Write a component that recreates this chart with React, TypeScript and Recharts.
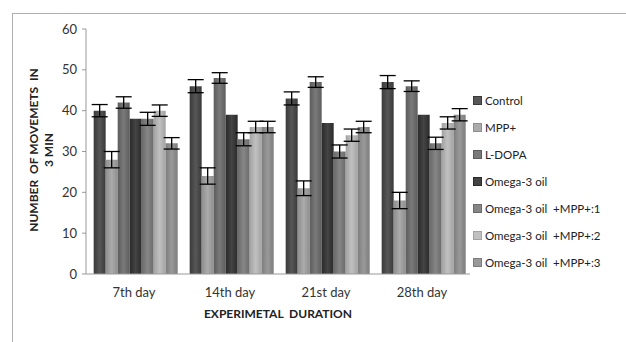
import React from 'react'
import { BarChart, Bar, XAxis, YAxis, ErrorBar, Label } from 'recharts'

const categories = ['7th day', '14th day', '21st day', '28th day']
const seriesNames = [
  'Control',
  'MPP+',
  'L-DOPA',
  'Omega-3 oil',
  'Omega-3 oil  +MPP+:1',
  'Omega-3 oil  +MPP+:2',
  'Omega-3 oil  +MPP+:3',
]
const control = [40, 46, 43, 47]
const mpp = [28, 24, 21, 18]
const ldopa = [42, 48, 47, 46]
const omega = [38, 39, 37, 39]
const omegaMpp1 = [38, 33, 30, 32]
const omegaMpp2 = [40, 36, 34, 37]
const omegaMpp3 = [32, 36, 36, 39]
const seriesValues = [control, mpp, ldopa, omega, omegaMpp1, omegaMpp2, omegaMpp3]

const controlErr = [1.5, 1.6, 1.6, 1.6]
const mppErr = [2, 2, 1.8, 2]
const ldopaErr = [1.4, 1.3, 1.3, 1.3]
const omegaErr = [0, 0, 0, 0]
const omegaMpp1Err = [1.6, 1.6, 1.6, 1.5]
const omegaMpp2Err = [1.4, 1.4, 1.5, 1.5]
const omegaMpp3Err = [1.4, 1.4, 1.4, 1.5]
const seriesErrors = [controlErr, mppErr, ldopaErr, omegaErr, omegaMpp1Err, omegaMpp2Err, omegaMpp3Err]

const yTicks = [0, 10, 20, 30, 40, 50, 60]

// [edge, centre] shades for each series
const shades = [
  ['#3a3a3a', '#575757'],
  ['#8e8e8e', '#ababab'],
  ['#5c5c5c', '#7a7a7a'],
  ['#2a2a2a', '#444444'],
  ['#6a6a6a', '#868686'],
  ['#a2a2a2', '#c0c0c0'],
  ['#7c7c7c', '#999999'],
]

const data = categories.map((day, i) => {
  const row: Record<string, string | number> = { day }
  seriesValues.forEach((vals, s) => {
    row[`s${s}`] = vals[i]
    row[`e${s}`] = seriesErrors[s][i]
  })
  return row
})

const font = 'Lato, "Open Sans", sans-serif'

function YTitle() {
  const cy = 150
  const common = {
    textAnchor: 'middle' as const,
    dominantBaseline: 'central' as const,
    fontFamily: font,
    fontWeight: 'bold',
    fontSize: 12,
    fill: '#222',
    style: { whiteSpace: 'pre' as const },
  }
  return (
    <g>
      <text x={33} y={cy} transform={`rotate(-90, 33, ${cy})`} {...common}>
        NUMBER  OF MOVEMETS  IN
      </text>
      <text x={48} y={cy} transform={`rotate(-90, 48, ${cy})`} {...common}>
        3 MIN
      </text>
    </g>
  )
}

export default function App() {
  return (
    <div style={{ position: 'absolute', left: 0, top: 0, width: 626, height: 342, background: '#fff', overflow: 'hidden' }}>
      <div
        style={{
          position: 'absolute',
          left: 12,
          top: 13,
          width: 626,
          height: 342,
          borderLeft: '1px solid #b0b0b0',
          borderTop: '1px solid #b0b0b0',
        }}
      />
      <BarChart
        width={626}
        height={342}
        data={data}
        margin={{ top: 29, right: 156, bottom: 38, left: 50 }}
        barCategoryGap="8%"
        barGap={0}
        style={{ position: 'absolute', left: 0, top: 0 }}
      >
        <defs>
          {shades.map(([edge, mid], s) => (
            <linearGradient key={s} id={`g${s}`} x1="0" y1="0" x2="1" y2="0">
              <stop offset="0%" stopColor={edge} />
              <stop offset="50%" stopColor={mid} />
              <stop offset="100%" stopColor={edge} />
            </linearGradient>
          ))}
        </defs>
        <XAxis
          dataKey="day"
          height={30}
          tickLine={false}
          axisLine={{ stroke: '#999' }}
          tick={{ fontFamily: font, fontSize: 13, fill: '#333' }}
          tickMargin={8}
        >
          <Label
            value={'EXPERIMETAL\u00a0\u00a0DURATION'}
            position="insideBottom"
            offset={-14}
            style={{ fontFamily: font, fontWeight: 'bold', fontSize: 12, fill: '#222' }}
          />
        </XAxis>
        <YAxis
          width={36}
          domain={[0, 60]}
          ticks={yTicks}
          interval={0}
          tickSize={4}
          tickMargin={5}
          axisLine={{ stroke: '#999' }}
          tickLine={{ stroke: '#999' }}
          tick={{ fontFamily: font, fontSize: 13, fill: '#333' }}
        >
          <Label content={<YTitle />} />
        </YAxis>
        {seriesNames.map((name, s) => (
          <Bar key={name} dataKey={`s${s}`} name={name} fill={`url(#g${s})`} isAnimationActive={false}>
            {s !== 3 && <ErrorBar dataKey={`e${s}`} width={8} stroke="#000" strokeWidth={1.3} />}
          </Bar>
        ))}
      </BarChart>
      <div style={{ position: 'absolute', left: 473, top: 87, fontFamily: font, fontSize: 11.5, color: '#222' }}>
        {seriesNames.map((name, s) => (
          <div key={name} style={{ height: 27, display: 'flex', alignItems: 'center', whiteSpace: 'pre' }}>
            <span
              style={{
                display: 'inline-block',
                width: 7,
                height: 7,
                marginRight: 3,
                background: shades[s][1],
                border: `1px solid ${shades[s][0]}`,
              }}
            />
            {name}
          </div>
        ))}
      </div>
    </div>
  )
}
